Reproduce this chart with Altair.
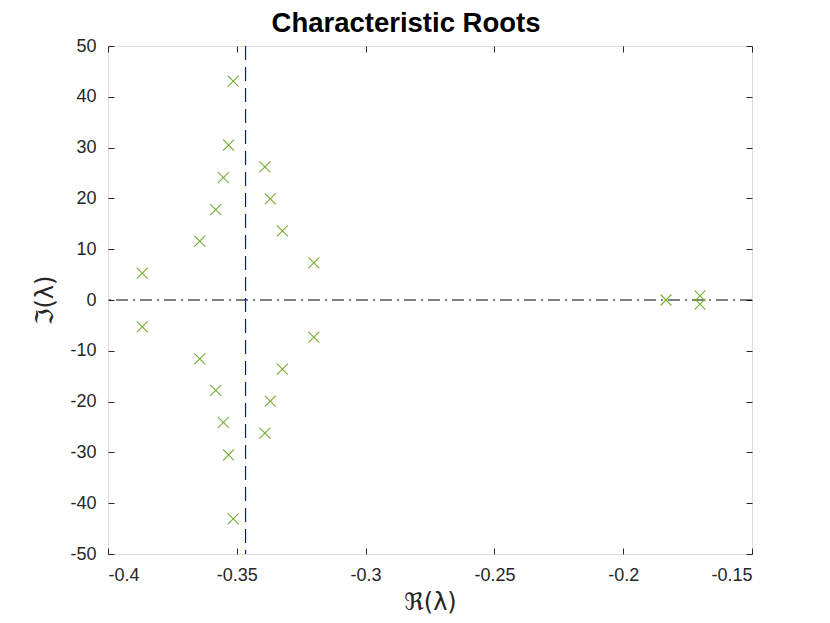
import altair as alt
import pandas as pd

re_vals = [-0.3514, -0.3532, -0.3391, -0.3552, -0.3370, -0.3582, -0.3323, -0.3644, -0.3201, -0.3867,
           -0.3514, -0.3532, -0.3391, -0.3552, -0.3370, -0.3582, -0.3323, -0.3644, -0.3201, -0.3867,
           -0.1834, -0.1702, -0.1702]
im_vals = [43.1, 30.5, 26.2, 24.1, 19.9, 17.8, 13.6, 11.6, 7.3, 5.3,
           -43.1, -30.5, -26.2, -24.1, -19.9, -17.8, -13.6, -11.6, -7.3, -5.3,
           0.0, 0.8, -0.8]
vline_x = [-0.3466]
hline_y = [0.0]
x_ticks = [-0.4, -0.35, -0.3, -0.25, -0.2, -0.15]
y_ticks = [-50, -40, -30, -20, -10, 0, 10, 20, 30, 40, 50]

pts = pd.DataFrame({"re": re_vals, "im": im_vals})
vdf = pd.DataFrame({"re": vline_x})
hdf = pd.DataFrame({"im": hline_y})

FONT = "Liberation Sans"
AX = "#262626"
lbl_expr = "datum.value < 0 ? '-' + format(-datum.value, '~g') : format(datum.value, '~g')"

xscale = alt.Scale(domain=[-0.4, -0.15], nice=False, zero=False)
yscale = alt.Scale(domain=[-50, 50], nice=False, zero=False)

common_axis = dict(domain=False, grid=False, tickSize=6, offset=-6, tickColor=AX,
                   labelFont=FONT, labelFontSize=18, labelColor=AX,
                   titleColor=AX, titleFont="DejaVu Sans", titleFontSize=24,
                   titleFontWeight="normal")

x_bottom = alt.Axis(values=x_ticks, labelExpr=lbl_expr, labelPadding=12, title="ℜ(λ)",
                    titlePadding=6, **common_axis)
y_left = alt.Axis(values=y_ticks, labelExpr=lbl_expr, labelPadding=12, title="ℑ(λ)",
                  titlePadding=12, **common_axis)
x_top = alt.Axis(values=x_ticks, orient="top", labels=False, title="", domain=False, grid=False,
                 tickSize=6, offset=-6, tickColor=AX)
y_right = alt.Axis(values=y_ticks, orient="right", labels=False, title="", domain=False, grid=False,
                   tickSize=6, offset=-6, tickColor=AX)

x_path = "M-1,-1L1,1M1,-1L-1,1"

points = alt.Chart(pts).mark_point(shape=x_path, filled=False, size=121, strokeWidth=1.1,
                                   color="#77AC30", opacity=1).encode(
    x=alt.X("re:Q", scale=xscale, axis=x_bottom),
    y=alt.Y("im:Q", scale=yscale, axis=y_left),
)

vline = alt.Chart(vdf).mark_rule(color="#0000ff", stroke="#0000ff", strokeWidth=1.2,
                                 strokeDash=[14, 7]).encode(
    x=alt.X("re:Q", scale=xscale, axis=x_top),
)

hline = alt.Chart(hdf).mark_rule(color="#000000", stroke="#000000", strokeWidth=1.1,
                                 strokeDash=[12, 5, 2, 5]).encode(
    y=alt.Y("im:Q", scale=yscale, axis=y_right),
)

chart = alt.layer(hline, vline, points).resolve_axis(x="independent", y="independent").properties(
    width=644,
    height=508,
    autosize=alt.AutoSizeParams(type="none"),
    padding={"left": 100, "top": 38, "right": 70, "bottom": 60},
    title=alt.TitleParams("Characteristic Roots", font=FONT, fontSize=27.5, fontWeight="bold",
                          color="#000000", anchor="middle", baseline="bottom", offset=4,
                          frame="group", dy=32, dx=-24),
).configure_view(stroke=AX, strokeWidth=1).configure(background="white")

chart.save("out.html", embed_options={"renderer": "svg", "actions": False})
